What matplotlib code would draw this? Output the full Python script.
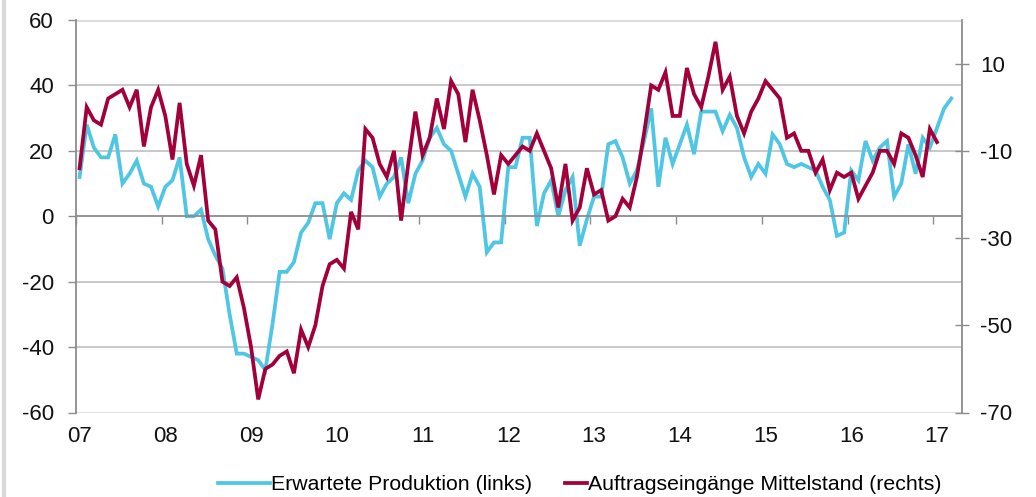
import matplotlib
matplotlib.use("Agg")
import matplotlib.pyplot as plt
from matplotlib.lines import Line2D
import numpy as np

plt.rcParams['font.family'] = ['Liberation Sans', 'DejaVu Sans']
plt.rcParams['axes.unicode_minus'] = False

# monthly values, Jan 2007 onwards
produktion = [12, 28, 21, 18, 18, 25, 10, 13, 17, 10, 9, 3,
              9, 11, 18, 0, 0, 2, -7, -12, -16, -30, -42, -42,
              -43, -44, -47, -33, -17, -17, -14, -5, -2, 4, 4, -7,
              4, 7, 5, 14, 17, 15, 6, 10, 12, 18, 4, 13,
              17, 24, 27, 22, 20, 13, 6, 13, 9, -11, -8, -8,
              15, 15, 24, 24, -3, 7, 11, 0, 8, 12, -9, -1,
              6, 6, 22, 23, 18, 10, 14, 23, 33, 9, 24, 16,
              22, 28, 19, 32, 32, 32, 26, 31, 27, 18, 12, 16,
              13, 25, 22, 16, 15, 16, 15, 14, 9, 5, -6, -5,
              14, 11, 23, 17, 21, 23, 6, 10, 22, 13, 24, 21,
              27, 33, 36]
auftraege = [-14, 0, -3, -4, 2, 3, 4, 0, 4, -9, 0, 4,
             -2, -12, 1, -13, -18, -11, -26, -28, -40, -41, -39, -46,
             -55, -67, -60, -59, -57, -56, -61, -51, -55, -50, -41, -36,
             -35, -37, -24, -28, -5, -7, -13, -16, -10, -26, -13, -1,
             -11, -7, 2, -5, 6, 3, -8, 4, -3, -11, -20, -11,
             -13, -11, -9, -10, -6, -10, -14, -23, -13, -26, -23, -14,
             -20, -19, -26, -25, -21, -23, -16, -6, 5, 4, 8, -2,
             -2, 9, 3, 0, 7, 15, 4, 7, -2, -6, -1, 2,
             6, 4, 2, -7, -6, -10, -10, -15, -12, -19, -15, -16,
             -15, -21, -18, -15, -10, -10, -13, -6, -7, -11, -16, -5,
             -8]
year_labels = ['07', '08', '09', '10', '11', '12', '13', '14', '15', '16', '17']
n_months = 124

blue = '#4fc6e3'
red = '#a2003a'
grey = '#8c8c8c'
lw = 2.7

fig = plt.figure(figsize=(10.36, 4.97), dpi=100)
ax = fig.add_axes([76 / 1036, 1 - 412.5 / 497, 886 / 1036, 392.5 / 497])
ax2 = ax.twinx()

# grid lines (left scale) behind everything
for v in np.arange(-60, 61, 20):
    if v == 0:
        continue
    c = '#dcdcdc' if abs(v) == 60 else '#c4c4c4'
    w = 2.0 if abs(v) == 60 else 1.3
    ax.axhline(v, color=c, lw=w, zorder=0)

ax.plot(np.arange(len(produktion)), produktion, color=blue, lw=lw,
        solid_joinstyle='miter', zorder=2)
ax2.plot(np.arange(len(auftraege)), auftraege, color=red, lw=lw,
         solid_joinstyle='miter', zorder=3)

ax.set_xlim(-0.5, n_months - 0.5)
ax.set_ylim(-60, 60)
ax2.set_ylim(-70, 20)
ax.set_yticks(np.arange(-60, 61, 20))
ax2.set_yticks(np.arange(-70, 11, 20))

# x axis at zero
ax.spines['bottom'].set_position(('data', 0))
ax.spines['bottom'].set_color(grey)
ax.spines['bottom'].set_linewidth(1.3)
ax.set_xticks(np.arange(-0.5, n_months, 12))
ax.set_xticklabels([])
ax.tick_params(axis='x', direction='out', length=6, color=grey, width=1)
for k, lab in enumerate(year_labels):
    ax.text(12 * k, -0.062, lab, transform=ax.get_xaxis_transform(),
            ha='center', va='center', fontsize=16, color='#111111')

for s in ['top', 'right']:
    ax.spines[s].set_visible(False)
for s in ['top', 'bottom', 'left']:
    ax2.spines[s].set_visible(False)
ax.spines['left'].set_color(grey)
ax.spines['left'].set_linewidth(1.3)
ax2.spines['right'].set_color(grey)
ax2.spines['right'].set_linewidth(1.3)

ax.tick_params(axis='y', direction='out', length=6, color=grey, width=1,
               labelsize=16, pad=10, labelcolor='#111111')
ax2.tick_params(axis='y', direction='inout', length=10, color=grey, width=1,
                labelsize=16, pad=8, labelcolor='#111111')

# legend, two pieces as in the original
h1 = Line2D([], [], color=blue, lw=lw)
h2 = Line2D([], [], color=red, lw=lw)
fig.legend([h1], ['Erwartete Produktion (links)'], loc='center left',
           bbox_to_anchor=(218 / 1036, 1 - 485 / 497), frameon=False,
           fontsize=15.3, handlelength=2.45, handletextpad=0.05,
           borderpad=0, borderaxespad=0)
fig.legend([h2], ['Auftragseingänge Mittelstand (rechts)'], loc='center left',
           bbox_to_anchor=(565 / 1036, 1 - 485 / 497), frameon=False,
           fontsize=15.3, handlelength=1.05, handletextpad=0.05,
           borderpad=0, borderaxespad=0)

fig.add_artist(Line2D([0.004, 0.004], [0, 1], color='#d9d9d9', lw=3,
                      transform=fig.transFigure))

fig.savefig('out.png', dpi=100)
